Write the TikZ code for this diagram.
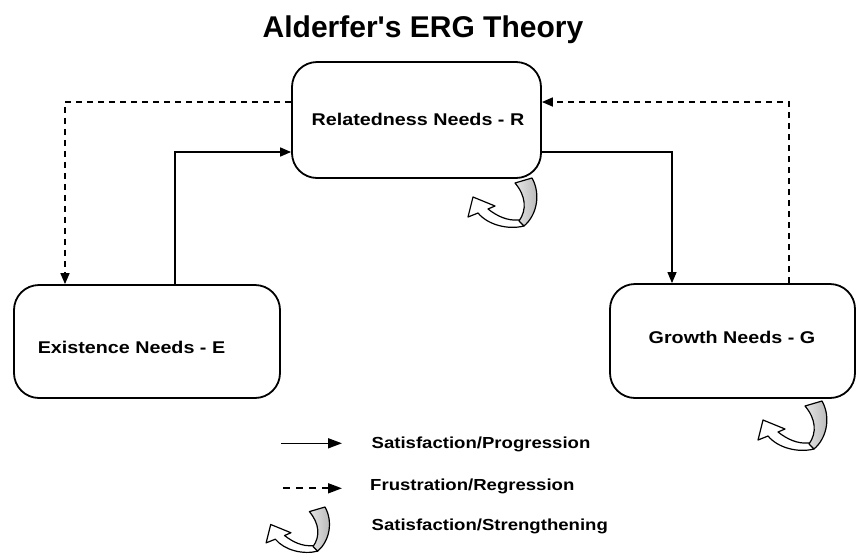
\documentclass[tikz,border=0pt]{standalone}
\usepackage{fontspec}
\setmainfont{Liberation Sans}
\newfontfamily\labfont[FakeStretch=1.16]{Liberation Sans}
\usepackage{tikz}
\usetikzlibrary{arrows.meta,positioning,calc}

\tikzset{
	needbox/.style={draw, line width=1.8pt, rounded corners=25pt, inner sep=0pt},
	needtxt/.style={anchor=base, inner sep=0pt, font=\labfont\fontsize{17}{20}\selectfont\bfseries},
	legtxt/.style={anchor=base west, inner sep=0pt, font=\labfont\fontsize{16}{19}\selectfont\bfseries},
	prog/.style={line width=1.6pt, -{Triangle[length=11pt,width=9pt]}},
	frus/.style={line width=1.7pt, dash pattern=on 6pt off 5pt, -{Triangle[length=11pt,width=9pt]}},
	pics/ribbon/.style={code={
		% white arrow part
		\draw[line width=1.2pt, fill=white, line join=round]
			(-13,42) .. controls (-25,43) and (-35,38) .. (-44,31) -- (-37,28) -- (-59,19)
			-- (-64,39) -- (-54,35) .. controls (-44,47) and (-24,52) .. (-8,48) -- cycle;
		% shaded band
		\draw[line width=1.2pt, left color=gray!20, right color=gray!60, line join=round]
			(-17,5) .. controls (-6,18) and (-5,32) .. (-13,43) -- (-8,48)
			.. controls (5,37) and (9,16) .. (0,0) -- cycle;
	}}
}

\begin{document}
\begin{tikzpicture}[x=1pt, y=-1pt]
	\useasboundingbox (0,0) rectangle (868,555);

	\node[anchor=base, font=\fontsize{30}{35}\selectfont\bfseries] (title) at (423,37.7) {Alderfer\textquotesingle s ERG Theory};

	% the three needs
	\node[needbox, minimum width=249pt, minimum height=116pt] (R) at (416.5,120) {};
	\node[needbox, minimum width=266pt, minimum height=113pt] (E) at (147,341.5) {};
	\node[needbox, minimum width=245pt, minimum height=114pt] (G) at (732.5,341) {};
	\node[needtxt] (Rtxt) at (418,125.7) {Relatedness Needs - R};
	\node[needtxt] (Etxt) at (131.5,353.3) {Existence Needs - E};
	\node[needtxt] (Gtxt) at (732,343.3) {Growth Needs - G};

	% connectors
	\draw[frus] ([yshift=18pt]R.west) -| ([xshift=-82pt]E.north);
	\draw[prog] ([xshift=28pt]E.north) |- ([yshift=-32pt]R.west);
	\draw[prog, line width=1.2pt] ([yshift=-32pt]R.east) -| ([xshift=-60.5pt]G.north);
	\draw[frus] ([xshift=56.5pt]G.north) |- ([yshift=18pt]R.east);

	% strengthening loops
	\pic at (532,178) {ribbon};
	\pic at (822,401) {ribbon};

	% legend
	\coordinate (s1) at (281,443.3);
	\coordinate (s2) at (342,443.3);
	\coordinate (f1) at (283,488.3);
	\coordinate (f2) at (342,488.3);
	\draw[prog, -{Triangle[length=14pt,width=10pt]}] (s1) -- (s2);
	\draw[frus, dash pattern=on 7pt off 6pt, -{Triangle[length=14pt,width=10pt]}] (f1) -- (f2);
	\pic[scale=0.92] at (325,507) {ribbon};
	\node[legtxt] (ltxt1) at (371.5,448.3) {Satisfaction/Progression};
	\node[legtxt] (ltxt2) at (370,490.7) {Frustration/Regression};
	\node[legtxt] (ltxt3) at (371.5,530) {Satisfaction/Strengthening};
\end{tikzpicture}
\end{document}
